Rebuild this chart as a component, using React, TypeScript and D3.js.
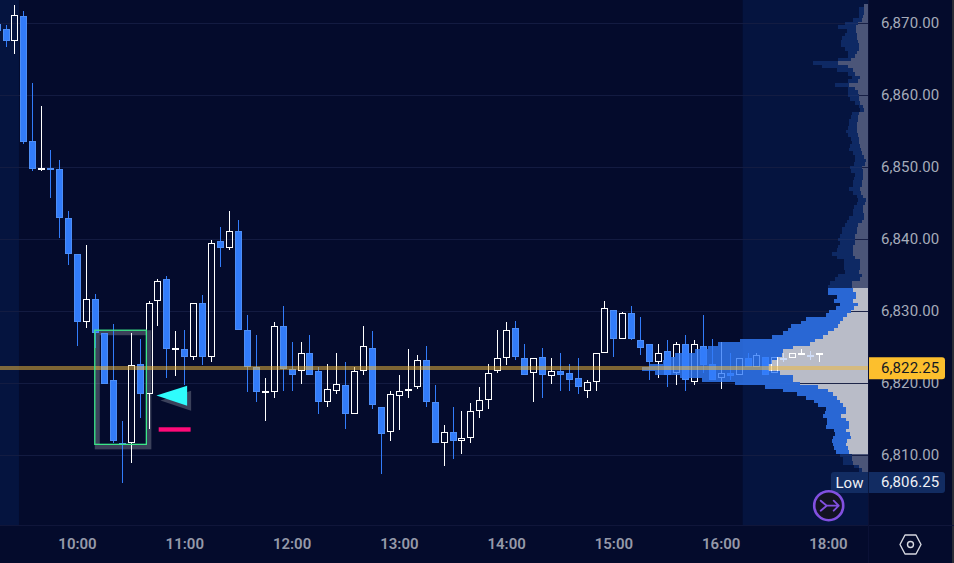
import React from "react";
import * as d3 from "d3";

const W = 954, H = 563, PLOT_R = 869, PLOT_B = 525;

// candles from index -1 (09:15) in 5-minute steps
const opens = [6870,6869.25,6867.5,6871,6853.75,6849.75,6850,6849.75,6843,6838,6828.5,6831.75,6827,6820.5,6811.75,6811.75,6822.75,6818.5,6831.5,6834.5,6824.75,6824.75,6823.75,6831.25,6823.75,6839.75,6838.75,6841.25,6827.5,6822.25,6818.75,6818.75,6828,6822,6821.75,6824.25,6821.75,6817.5,6819,6819.75,6815.75,6821.75,6825,6816.75,6813.25,6818.25,6819.25,6819.5,6823.25,6817.5,6811.75,6813.25,6812,6812.5,6816.25,6817.75,6821.75,6823.5,6827.75,6823.5,6821.5,6823.75,6821,6821.75,6821.5,6820.75,6819,6820.25,6824.25,6830.25,6826.25,6829.75,6826,6825.5,6823,6824.5,6821.5,6825.5,6820.25,6825.25,6822.75,6820.75,6821.5,6821.25,6823.5,6822.25,6823.75,6821.5,6823.5,6823.5,6824.25,6824,6824];
const closes = [6869,6867.5,6871.25,6853.5,6849.75,6850,6849.75,6843,6838,6828.5,6831.75,6827,6820,6812,6811.5,6822.5,6818.5,6831.25,6834.25,6824.75,6825,6823.75,6831.25,6823.75,6839.5,6838.75,6841.25,6827.5,6822.25,6818.75,6819,6828,6822,6821.25,6824.25,6821.25,6817.5,6819.25,6820,6815.75,6821.75,6825.25,6817,6813,6818.5,6819,6819.25,6823.25,6817.5,6811.75,6813.25,6812,6812.5,6816.25,6817.75,6821.5,6823.5,6827.5,6823.75,6821.25,6823.5,6821.25,6821.75,6821.25,6820.5,6819.5,6820.25,6824.25,6830.5,6826.25,6829.75,6826.25,6825,6823,6824.25,6821.25,6825.5,6820.5,6825.5,6822.5,6820.5,6821.5,6821,6823.5,6822.25,6824,6821.25,6823.75,6823.5,6824.25,6824.25,6824,6824.25];
const highs = [6870,6869.75,6872.5,6871.75,6861.75,6858.5,6852.5,6851,6844,6838,6839.25,6832.5,6827,6828.25,6814.75,6827,6826.25,6831.5,6834.5,6835,6827.25,6827.5,6831.25,6832.25,6840,6841.75,6844,6842.75,6829.5,6826.75,6820.75,6828.5,6830.75,6825.75,6825.75,6826.75,6822.25,6822.75,6824.25,6823,6822.25,6828,6827.25,6816.75,6819,6821.25,6824.75,6824,6825.25,6819.75,6814.25,6816.75,6816.25,6817.25,6819.5,6822.75,6827.5,6828.5,6828.75,6825.5,6823.5,6825,6823.5,6824.25,6822.75,6823.5,6820.5,6824.25,6831.5,6830.25,6830,6830.75,6829.25,6825.5,6825.5,6826,6825.75,6826.75,6826,6829.5,6826.25,6825.75,6824.25,6823.5,6824.25,6824.25,6823.75,6823.75,6824.25,6824.25,6824.75,6824.5,6824.25];
const lows = [6869,6866.75,6865.75,6853.25,6849.5,6849.5,6845.75,6840.25,6836.5,6825.25,6827.75,6825,6820,6811.75,6806.25,6809,6815.25,6813.75,6828,6820.75,6821,6819.75,6823.25,6822.5,6823,6836.25,6838.5,6827.5,6818.75,6817.5,6814.75,6818,6819,6819,6820,6821.25,6815.75,6816.75,6818.5,6813.75,6815.75,6821.25,6816.5,6807.5,6812,6813.5,6818,6819.25,6816.75,6811.75,6808.5,6809.5,6810.25,6811.75,6815.25,6816.5,6821.5,6822.5,6823.25,6821.25,6817.5,6818,6820,6819,6819,6818.5,6818,6819,6824.25,6823.75,6826.25,6826,6824,6820.5,6820.75,6819.5,6819.75,6819,6819.75,6821.5,6820.5,6819.25,6820.5,6821.25,6822.25,6822.25,6821.25,6821.5,6823,6823.5,6824,6823.25,6823];
const FIRST_INDEX = -1;
const tintedDojis = [87, 90];

const timeTickIndex = [8, 20, 32, 44, 56, 68, 80, 92];
const timeTickLabels = ["10:00", "11:00", "12:00", "13:00", "14:00", "15:00", "16:00", "18:00"];
const priceTicks = [6870, 6860, 6850, 6840, 6830, 6820, 6810];
const lastPrice = 6822.25;
const sessionLow = 6806.25;
const regularSessionIdx = [1.45, 82.4];

// volume profile rows, half-point apart, from the top
const PROFILE_TOP = 6872.5;
const VALUE_HIGH = 6833, VALUE_LOW = 6810.5;
const profileTotal = [5,10,10,10,16,24,31,22,24,27,28,28,24,21,21,31,56,47,32,21,17,21,34,21,21,21,19,14,10,9,17,18,20,20,21,23,21,18,17,19,20,16,14,14,15,19,18,14,15,16,16,20,16,12,11,12,15,16,16,20,22,24,27,27,29,31,29,31,32,37,32,25,25,25,24,31,34,39,41,41,41,32,35,29,33,40,43,63,68,78,81,86,97,129,151,161,174,194,200,206,219,227,214,189,167,134,104,86,72,63,55,51,43,44,46,42,42,43,35,34,36,37,36,35,33,29,26,26,15,10,9,6,4];
const profileGray = [5,5,5,6,7,11,13,13,12,12,11,10,10,12,14,18,31,21,16,14,9,11,20,14,11,10,10,9,6,5,10,11,11,12,12,12,11,10,10,9,8,7,5,3,4,7,6,6,6,7,7,9,8,6,3,4,6,6,5,5,7,11,12,12,14,14,14,16,16,16,14,9,9,9,10,7,9,17,17,16,13,13,16,11,15,18,22,26,29,31,35,41,46,54,59,76,86,87,92,97,104,104,89,76,76,69,51,41,36,32,29,26,23,23,28,23,20,20,23,19,18,22,23,21,20,17,17,16,10,7,6,4,2];

const COLORS = {
  bg: "#040b2c", panel: "#05143f", grid: "#141c42", blue: "rgb(50,124,250)", blueEdge: "rgb(78,142,246)",
  gray: "#b9bcc8", grayDim: "#4b5578", gold: "#f0b93c", tag: "#fcbf2d", axis: "#a6abba", time: "#9599a9",
  pill: "#122c62", green: "#3ce88a", cyan: "#2ffcfc", pink: "#ff0a78", purple: "#8250e0",
};

// annotations in chart terms
const boxIdx = [9.93, 15.7];
const boxPrice = [6827.4, 6811.55];
const triangleIdx = [16.83, 20.26, 20.26];
const trianglePrice = [6818.35, 6819.7, 6816.9];
const dashIdx = [17.08, 20.65];
const dashPrice = [6813.92, 6813.31];

const x = d3.scaleLinear().domain([0, 92]).range([6, 828.48]);
const y = d3.scaleLinear().domain([6810, 6870]).range([455.5, 23.5]);
const vol = d3.scaleLinear().domain([0, 100]).range([PLOT_R, PLOT_R - 100]);
const fmt = d3.format(",.2f");
const px = (v: number) => Math.floor(v) + 0.5;

const candles = opens.map((o, k) => ({ i: FIRST_INDEX + k, o, c: closes[k], h: highs[k], l: lows[k] }));
const rows = profileTotal.map((t, k) => ({ p: PROFILE_TOP - k * 0.5, t, g: profileGray[k] }));
const rowTop = (p: number) => Math.round(y(p + 0.25));
const rowH = (p: number) => Math.round(y(p - 0.25)) - rowTop(p);
const inValue = (p: number) => p <= VALUE_HIGH && p >= VALUE_LOW;

function Candle({ d }: { d: (typeof candles)[number] }) {
  const cx = px(x(d.i));
  const down = d.c < d.o;
  const tinted = tintedDojis.includes(d.i);
  const col = tinted ? "#cfdcf7" : down ? COLORS.blue : "#ffffff";
  const top = Math.round(y(Math.max(d.o, d.c)));
  const bot = Math.max(Math.round(y(Math.min(d.o, d.c))), top + 1);
  const hi = Math.round(y(d.h));
  const lo = Math.round(y(d.l));
  const h = bot - top;
  return (
    <g>
      {hi < top && <line x1={cx} x2={cx} y1={hi} y2={top} stroke={col} />}
      {lo > bot && <line x1={cx} x2={cx} y1={bot} y2={lo} stroke={col} />}
      {d.o === d.c ? (
        <rect x={cx - 3.5} y={top - 0.5} width={7} height={2} fill={col} />
      ) : down ? (
        <rect x={cx - 3} y={top + 0.5} width={6} height={Math.max(h - 1, 1)} fill={COLORS.blue} stroke={COLORS.blueEdge} />
      ) : (
        <rect x={cx - 3} y={top + 0.5} width={6} height={Math.max(h - 1, 1)} fill="none" stroke={col} />
      )}
    </g>
  );
}

export default function App() {
  const font = "Roboto, sans-serif";
  const bx0 = x(boxIdx[0]), bx1 = x(boxIdx[1]), by0 = y(boxPrice[0]), by1 = y(boxPrice[1]);
  const tri = triangleIdx.map((v, k) => [x(v), y(trianglePrice[k])]);
  const triPath = d3.line()(tri as [number, number][]) + "Z";
  const lastY = y(lastPrice);
  const lowY = 482;
  return (
    <svg width={W} height={H} style={{ position: "absolute", left: 0, top: 0, display: "block" }} fontFamily={font}>
      <defs>
        <filter id="soft" x="-20%" y="-20%" width="140%" height="140%">
          <feGaussianBlur stdDeviation="0.7" />
        </filter>
      </defs>
      <rect width={W} height={H} fill={COLORS.bg} />
      <rect x={0} y={0} width={x(regularSessionIdx[0])} height={PLOT_B} fill={COLORS.panel} />
      <rect x={x(regularSessionIdx[1])} y={0} width={PLOT_R - x(regularSessionIdx[1])} height={PLOT_B} fill={COLORS.panel} />
      <rect x={952} y={0} width={2} height={H} fill="#2a2c36" />

      <g shapeRendering="crispEdges">
        {rows.map((r) => (
          <rect key={r.p} x={vol(r.g)} y={rowTop(r.p)} width={PLOT_R - vol(r.g)} height={rowH(r.p)} fill={inValue(r.p) ? COLORS.gray : COLORS.grayDim} />
        ))}
      </g>

      {priceTicks.map((t) => (
        <line key={t} x1={0} x2={PLOT_R} y1={y(t)} y2={y(t)} stroke={COLORS.grid} strokeOpacity={0.95} />
      ))}

      <g filter="url(#soft)" opacity={0.22}>
        <rect x={bx0 + 2.5} y={by0 + 2.5} width={bx1 - bx0} height={by1 - by0} fill="none" stroke="#fff" strokeWidth={5} />
        <path d={triPath} transform="translate(4,5)" fill="#fff" />
      </g>

      <g shapeRendering="crispEdges">
        {candles.map((d) => (
          <Candle key={d.i} d={d} />
        ))}
      </g>

      <g shapeRendering="crispEdges">
        {rows.map((r) => (
          <rect key={r.p} x={vol(r.t)} y={rowTop(r.p)} width={vol(r.g) - vol(r.t)} height={rowH(r.p)} fill={COLORS.blue} fillOpacity={inValue(r.p) ? 0.8 : 0.2} />
        ))}
      </g>

      <rect x={0} y={lastY - 1.6} width={PLOT_R} height={4} fill={COLORS.gold} fillOpacity={0.52} shapeRendering="crispEdges" />

      <rect x={bx0} y={by0} width={bx1 - bx0} height={by1 - by0} fill="none" stroke={COLORS.green} strokeWidth={1.3} />
      <path d={triPath} fill={COLORS.cyan} />
      <rect x={x(dashIdx[0])} y={y(dashPrice[0])} width={x(dashIdx[1]) - x(dashIdx[0])} height={y(dashPrice[1]) - y(dashPrice[0])} fill={COLORS.pink} />

      <line x1={0} x2={W} y1={PLOT_B + 0.5} y2={PLOT_B + 0.5} stroke="#10163a" />
      <line x1={PLOT_R - 0.5} x2={PLOT_R - 0.5} y1={0} y2={H} stroke="#0b1136" />

      {priceTicks.map((t) => (
        <text key={t} x={881} y={y(t) + 4} fontSize={15} fill={COLORS.axis} letterSpacing={0.1}>
          {fmt(t)}
        </text>
      ))}

      {timeTickIndex.map((i, k) => (
        <text key={i} x={x(i)} y={549} fontSize={15} fontWeight={600} fill={COLORS.time} textAnchor="middle">
          {timeTickLabels[k]}
        </text>
      ))}

      <path d={`M869,${lastY - 10}H942a3,3 0 0 1 3,3V${lastY + 9}a3,3 0 0 1 -3,3H869Z`} fill={COLORS.tag} />
      <text x={881} y={lastY + 5.5} fontSize={15} fill="#131722" letterSpacing={0.1}>
        {fmt(lastPrice)}
      </text>

      <rect x={831} y={lowY - 10} width={114} height={21} rx={3} fill={COLORS.pill} />
      <line x1={868.5} x2={868.5} y1={lowY - 10} y2={lowY + 11} stroke={COLORS.bg} strokeOpacity={0.6} />
      <text x={835.5} y={lowY + 5.5} fontSize={15} fill="#eef0f6">Low</text>
      <text x={881} y={lowY + 5} fontSize={15} fill="#eef0f6" letterSpacing={0.1}>{fmt(sessionLow)}</text>

      <g transform="translate(828.7,505.7)">
        <circle r={14.5} fill="#131322" stroke={COLORS.purple} strokeWidth={2.6} />
        <path d="M-8,-5L-2,0L-8,5M-2,0H10M5,-5L10,0L5,5" fill="none" stroke={COLORS.purple} strokeWidth={1.8} strokeLinecap="round" strokeLinejoin="round" />
      </g>

      <g transform="translate(910.5,544.5)" fill="none" stroke="#d6d8e0" strokeWidth={1.4}>
        <path d="M-10.5,0L-5.5,-9.5H5.5L10.5,0L5.5,9.5H-5.5Z" strokeLinejoin="round" />
        <circle r={3} />
      </g>
    </svg>
  );
}
